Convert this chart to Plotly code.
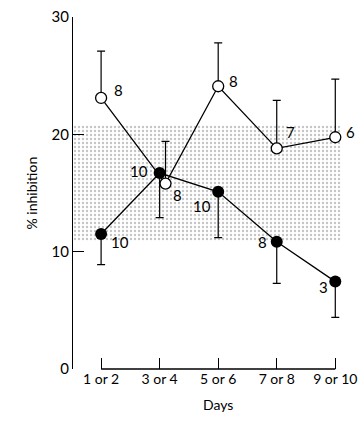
import plotly.graph_objects as go

# ---- data ----
days = ["1 or 2", "3 or 4", "5 or 6", "7 or 8", "9 or 10"]
xpos = [1, 2, 3, 4, 5]
open_x = [1, 2.1, 3, 4, 5]          # open symbol at day 3/4 slightly offset in the original
open_vals = [23.1, 15.8, 24.1, 18.8, 19.75]
open_err = [4.0, 3.6, 3.7, 4.1, 4.95]
open_n = ["8", "8", "8", "7", "6"]
filled_vals = [11.5, 16.7, 15.1, 10.85, 7.45]
filled_err = [2.6, 3.8, 3.9, 3.55, 3.05]
filled_n = ["10", "10", "10", "8", "3"]
band_low, band_high = 10.9, 20.8
yticks = [0, 10, 20, 30]

# ---- label offsets (pixels) ----
open_off = [(17, 8), (12, -11), (15, 5), (14, 16), (15, 5)]
filled_off = [(19, -8), (-21, 2), (-16, -14), (-14, 0), (-12, -5)]

FONT = "Lato"
xr = [0.52, 5.2]
band_x1 = 5.1

fig = go.Figure()

# shaded band
fig.add_trace(go.Scatter(
    x=[xr[0], band_x1, band_x1, xr[0], xr[0]],
    y=[band_low, band_low, band_high, band_high, band_low],
    mode="lines", line=dict(width=0), fill="toself",
    fillcolor="rgba(0,0,0,0)",
    fillpattern=dict(shape=".", size=4, solidity=0.28, fgcolor="#8a8a8a", bgcolor="white"),
    hoverinfo="skip", showlegend=False))

fig.add_trace(go.Scatter(
    x=open_x, y=open_vals, mode="lines+markers",
    line=dict(color="black", width=1.3),
    marker=dict(symbol="circle", size=11, color="white", line=dict(color="black", width=1.3)),
    error_y=dict(type="data", symmetric=False, array=open_err, arrayminus=[0]*5,
                 color="black", thickness=1.2, width=4),
    showlegend=False))

fig.add_trace(go.Scatter(
    x=xpos, y=filled_vals, mode="lines+markers",
    line=dict(color="black", width=1.3),
    marker=dict(symbol="circle", size=12, color="black"),
    error_y=dict(type="data", symmetric=False, array=[0]*5, arrayminus=filled_err,
                 color="black", thickness=1.2, width=4),
    showlegend=False))

# x-axis line (detached from the y axis)
fig.add_shape(type="line", x0=xpos[0], x1=xpos[-1], y0=0, y1=0, xref="x", yref="paper",
              line=dict(color="black", width=1.3), layer="above")

for x, y, t, (dx, dy) in zip(open_x, open_vals, open_n, open_off):
    fig.add_annotation(x=x, y=y, text=t, showarrow=False, xshift=dx, yshift=dy,
                       font=dict(family=FONT, size=15, color="black"))
for x, y, t, (dx, dy) in zip(xpos, filled_vals, filled_n, filled_off):
    fig.add_annotation(x=x, y=y, text=t, showarrow=False, xshift=dx, yshift=dy,
                       font=dict(family=FONT, size=15, color="black"))

fig.add_annotation(x=3, y=0, xref="x", yref="paper", text="Days", showarrow=False,
                   yshift=-46, font=dict(family=FONT, size=14, color="black"))
fig.add_annotation(x=0, y=0.5, xref="paper", yref="paper", text="% inhibition",
                   showarrow=False, textangle=-90, xshift=-53,
                   font=dict(family=FONT, size=14, color="black"))

fig.update_layout(
    width=362, height=423,
    margin=dict(l=73, r=15, t=17, b=54, autoexpand=False),
    paper_bgcolor="white", plot_bgcolor="white",
    font=dict(family=FONT, color="black"),
    xaxis=dict(range=xr, tickvals=xpos, ticktext=days, ticks="inside", ticklen=11,
               tickwidth=1.3, tickcolor="black", showline=False, showgrid=False,
               zeroline=False, automargin=False, ticklabeloverflow="allow",
               tickfont=dict(size=14, family=FONT)),
    yaxis=dict(range=[0, 30], tickvals=yticks, ticks="inside", ticklen=11,
               tickwidth=1.3, tickcolor="black", showline=True, linecolor="black",
               linewidth=1.3, showgrid=False, zeroline=False, automargin=False,
               ticklabeloverflow="allow", tickfont=dict(size=15, family=FONT)),
)

# remove the default page margin so the figure fills the window exactly
fig.write_html("out.html", config={"displayModeBar": False},
               post_script="document.body.style.margin='0';document.body.style.overflow='hidden';")
